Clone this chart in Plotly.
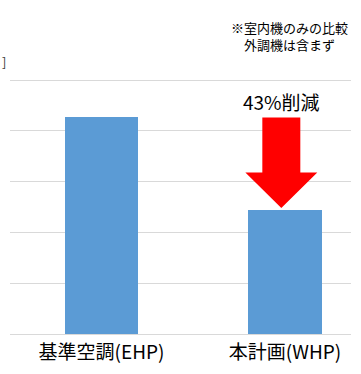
import plotly.graph_objects as go

# Energy comparison: baseline air conditioning vs. planned system
categories = ["基準空調(EHP)", "本計画(WHP)"]
values = [4.28, 2.44]
reduction_label = "43%削減"
note_lines = ["※室内機のみの比較", "外調機は含まず"]
unit_fragment = "]"

BAR_COLOR = "#5b9bd5"
ARROW_COLOR = "#ff0000"
GRID_COLOR = "#d9d9d9"
FONT = "Noto Sans CJK JP"

W, H = 361, 374
ML, MR, MT, MB = 10, 10, 79, 38
Y_TOP = 5.02


def px_to_paper(px, py):
    """Convert a figure pixel position into paper coordinates of the plot area."""
    pw = W - ML - MR
    ph = H - MT - MB
    return (px - ML) / pw, (H - MB - py) / ph


x_pos = list(range(len(categories)))

fig = go.Figure()
fig.add_trace(go.Bar(
    x=x_pos,
    y=values,
    width=0.398,
    marker=dict(color=BAR_COLOR, line=dict(width=0)),
    hoverinfo="skip",
))

# Downward arrow from the baseline bar height to the planned bar height
ax = x_pos[1] - 0.02
top = values[0] - 0.02
tip = values[1] + 0.04
head_base = tip + 0.70
shaft_hw = 0.1035
head_hw = 0.196
path = (
    f"M {ax - shaft_hw},{top} L {ax + shaft_hw},{top} "
    f"L {ax + shaft_hw},{head_base} L {ax + head_hw},{head_base} "
    f"L {ax},{tip} L {ax - head_hw},{head_base} "
    f"L {ax - shaft_hw},{head_base} Z"
)
fig.add_shape(type="path", path=path, xref="x", yref="y",
              fillcolor=ARROW_COLOR, line=dict(width=0))

fig.add_annotation(x=ax, y=4.57, xref="x", yref="y", text=reduction_label,
                   showarrow=False, font=dict(family=FONT, size=19, color="#000000"))

# Two-line footnote in the top-right corner
nx, ny = px_to_paper(289, 35.5)
fig.add_annotation(x=nx, y=ny, xref="paper", yref="paper",
                   text="<br>".join(note_lines), showarrow=False,
                   xanchor="center", yanchor="middle", align="center",
                   font=dict(family=FONT, size=13, color="#000000"))

ux, uy = px_to_paper(0, 61)
fig.add_annotation(x=ux, y=uy, xref="paper", yref="paper", text=unit_fragment,
                   showarrow=False, xanchor="left", yanchor="middle",
                   font=dict(family=FONT, size=13, color="#404040"))

fig.update_layout(
    width=W, height=H,
    margin=dict(l=ML, r=MR, t=MT, b=MB),
    paper_bgcolor="white", plot_bgcolor="white",
    showlegend=False,
    bargap=0,
    font=dict(family=FONT, color="#000000"),
    xaxis=dict(
        tickmode="array", tickvals=x_pos, ticktext=categories,
        range=[-0.4986, 1.3597], showgrid=False, zeroline=False,
        showline=False, ticks="", ticklabelstandoff=5,
        tickfont=dict(family=FONT, size=19, color="#000000"),
    ),
    yaxis=dict(
        range=[0, Y_TOP], tickmode="array", tickvals=[0, 1, 2, 3, 4, 5],
        showticklabels=False, ticks="",
        showgrid=True, gridcolor=GRID_COLOR, gridwidth=1,
        zeroline=True, zerolinecolor=GRID_COLOR, zerolinewidth=1, showline=False,
    ),
)

fig.write_html("out.html")
